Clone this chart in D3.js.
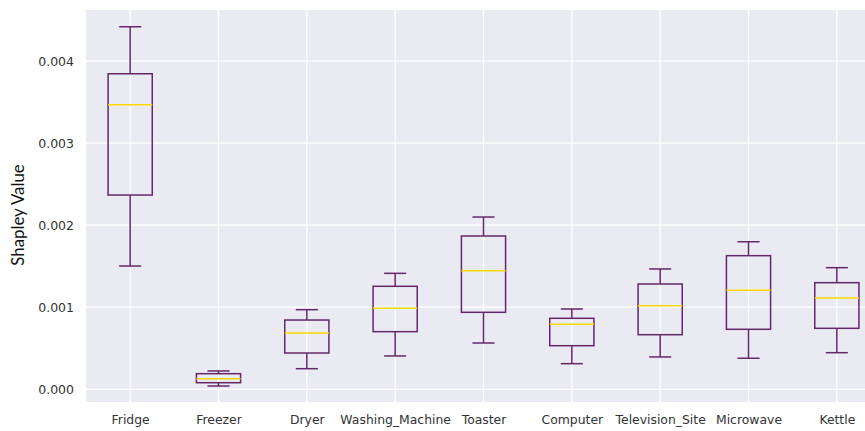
<!DOCTYPE html>
<html>
<head>
<meta charset="utf-8">
<script src="https://cdn.jsdelivr.net/npm/d3@7"></script>
<style>
  html, body { margin: 0; padding: 0; background: #ffffff; }
  svg { display: block; }
</style>
</head>
<body>
<svg id="chart" width="865" height="431"></svg>
<script>
const categories = ["Fridge", "Freezer", "Dryer", "Washing_Machine", "Toaster", "Computer", "Television_Site", "Microwave", "Kettle"];
const whiskerLow  = [0.001502, 0.000040, 0.000251, 0.000406, 0.000564, 0.000312, 0.000394, 0.000378, 0.000446];
const q1          = [0.002367, 0.000080, 0.000442, 0.000702, 0.000938, 0.000531, 0.000665, 0.000731, 0.000743];
const median      = [0.003468, 0.000129, 0.000686, 0.000987, 0.001445, 0.000792, 0.001019, 0.001206, 0.001112];
const q3          = [0.003845, 0.000190, 0.000844, 0.001255, 0.001868, 0.000865, 0.001283, 0.001628, 0.001299];
const whiskerHigh = [0.004418, 0.000223, 0.000970, 0.001413, 0.002099, 0.000978, 0.001466, 0.001798, 0.001482];
const yTicks = [0, 0.001, 0.002, 0.003, 0.004];
const yLabel = "Shapley Value";

const data = categories.map((c, i) => ({
  cat: c, i, lo: whiskerLow[i], q1: q1[i], med: median[i], q3: q3[i], hi: whiskerHigh[i]
}));

const svg = d3.select("#chart");
const plot = { left: 86, right: 881, top: 10, bottom: 402 };

const x = d3.scaleLinear().domain([-0.5, categories.length - 0.5]).range([plot.left, plot.right]);
const y = d3.scaleLinear().domain([-0.000155, 0.004622]).range([plot.bottom, plot.top]);

const unit = x(1) - x(0);
const boxW = unit * 0.5;
const capW = boxW * 0.5;

svg.append("rect")
  .attr("x", plot.left).attr("y", plot.top)
  .attr("width", plot.right - plot.left).attr("height", plot.bottom - plot.top)
  .attr("fill", "#EAEAF2");

const grid = svg.append("g");
grid.selectAll("line.h").data(yTicks).join("line")
  .attr("x1", plot.left).attr("x2", plot.right)
  .attr("y1", d => y(d)).attr("y2", d => y(d))
  .attr("stroke", "#ffffff").attr("stroke-width", 1.3);
grid.selectAll("line.v").data(data).join("line")
  .attr("x1", d => x(d.i)).attr("x2", d => x(d.i))
  .attr("y1", plot.top).attr("y2", plot.bottom)
  .attr("stroke", "#ffffff").attr("stroke-width", 1.3);

// y tick labels
const yAxis = d3.axisLeft(y).tickValues(yTicks).tickFormat(d3.format(".3f")).tickSize(0).tickPadding(0);
const gy = svg.append("g").attr("transform", `translate(${74},0)`).call(yAxis);
gy.select(".domain").remove();
gy.selectAll("text")
  .attr("font-family", "DejaVu Sans, sans-serif")
  .attr("font-size", "12.5px")
  .attr("fill", "#333333");

// x tick labels
const xAxis = d3.axisBottom(x).tickValues(d3.range(categories.length)).tickFormat(i => categories[i]).tickSize(0).tickPadding(0);
const gx = svg.append("g").attr("transform", `translate(0,${415.5})`).call(xAxis);
gx.select(".domain").remove();
gx.selectAll("text")
  .attr("font-family", "DejaVu Sans, sans-serif")
  .attr("font-size", "12.4px")
  .attr("fill", "#333333");

// y label
svg.append("text")
  .attr("transform", `translate(24,${(plot.top + plot.bottom) / 2 + 9}) rotate(-90)`)
  .attr("text-anchor", "middle")
  .attr("font-family", "Lato, 'Open Sans', sans-serif")
  .attr("font-size", "16.8px")
  .attr("fill", "#111111")
  .text(yLabel);

const outline = "#64286A";
const medColor = "#FFD700";
const sw = 1.5;

const boxes = svg.append("g").selectAll("g").data(data).join("g");

// whiskers
boxes.append("line")
  .attr("x1", d => x(d.i)).attr("x2", d => x(d.i))
  .attr("y1", d => y(d.q3)).attr("y2", d => y(d.hi))
  .attr("stroke", outline).attr("stroke-width", sw);
boxes.append("line")
  .attr("x1", d => x(d.i)).attr("x2", d => x(d.i))
  .attr("y1", d => y(d.q1)).attr("y2", d => y(d.lo))
  .attr("stroke", outline).attr("stroke-width", sw);
// caps
boxes.append("line")
  .attr("x1", d => x(d.i) - capW / 2).attr("x2", d => x(d.i) + capW / 2)
  .attr("y1", d => y(d.hi)).attr("y2", d => y(d.hi))
  .attr("stroke", outline).attr("stroke-width", sw);
boxes.append("line")
  .attr("x1", d => x(d.i) - capW / 2).attr("x2", d => x(d.i) + capW / 2)
  .attr("y1", d => y(d.lo)).attr("y2", d => y(d.lo))
  .attr("stroke", outline).attr("stroke-width", sw);
// box
boxes.append("rect")
  .attr("x", d => x(d.i) - boxW / 2).attr("width", boxW)
  .attr("y", d => y(d.q3)).attr("height", d => y(d.q1) - y(d.q3))
  .attr("fill", "none").attr("stroke", outline).attr("stroke-width", sw);
// median
boxes.append("line")
  .attr("x1", d => x(d.i) - boxW / 2).attr("x2", d => x(d.i) + boxW / 2)
  .attr("y1", d => y(d.med)).attr("y2", d => y(d.med))
  .attr("stroke", medColor).attr("stroke-width", sw);
</script>
</body>
</html>
